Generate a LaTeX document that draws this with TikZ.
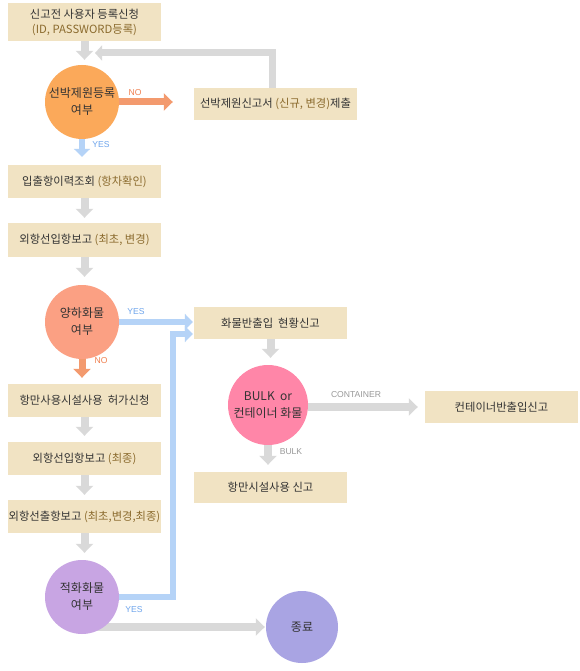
\documentclass[tikz,border=0pt]{standalone}
\usepackage{fontspec}
\setmainfont{Noto Sans CJK KR}
\newfontfamily\labfont{Liberation Sans}
\usetikzlibrary{arrows.meta,backgrounds}
\definecolor{boxc}{HTML}{F1E3C3}
\definecolor{txt}{HTML}{333333}
\definecolor{brn}{HTML}{8B6B2E}
\definecolor{garr}{HTML}{D9D9D9}
\definecolor{barr}{HTML}{B5D3F7}
\definecolor{oarr}{HTML}{F39A6E}
\definecolor{otxt}{HTML}{F08050}
\definecolor{btxt}{HTML}{6EA5EC}
\definecolor{gtxt}{HTML}{999999}
\definecolor{cA}{HTML}{FBA95A}
\definecolor{cB}{HTML}{FBA083}
\definecolor{cC}{HTML}{FF86A8}
\definecolor{cD}{HTML}{C8A5E3}
\definecolor{cE}{HTML}{A9A4E3}
\tikzset{
  flowbox/.style={fill=boxc, draw=none, minimum width=153pt, minimum height=33pt, inner sep=0pt,
    text=txt, align=center, font=\fontsize{11.3}{15}\selectfont},
  decide/.style={circle, draw=none, minimum size=74pt, inner sep=0pt, text=txt, align=center,
    font=\fontsize{12}{17}\selectfont},
  garrow/.style={draw=garr, line width=8pt, -{Triangle[width=17pt,length=9pt]}},
  barrow/.style={draw=barr, line width=6.5pt, -{Triangle[width=16pt,length=8pt]}},
  oarrow/.style={draw=oarr, line width=7pt, -{Triangle[width=17pt,length=9pt]}},
  lab/.style={font=\labfont\fontsize{8.6}{10}\selectfont, inner sep=0pt},
}
\newcommand{\br}[1]{\textcolor{brn}{#1}}
\begin{document}
\begin{tikzpicture}[x=1pt,y=-1pt]
\useasboundingbox (0,0) rectangle (580,671);
% boxes
\node[flowbox, minimum height=38pt] (b1) at (84.5,22) {신고전 사용자 등록신청\\\br{(ID, PASSWORD등록)}};
\node[flowbox, minimum width=163pt, minimum height=32pt] (b2) at (275.5,104) {선박제원신고서 \br{(신규, 변경)}제출};
\node[flowbox] (b3) at (84.5,181.5) {입출항이력조회 \br{(항차확인)}};
\node[flowbox, minimum height=34pt] (b4) at (84.5,240) {외항선입항보고 \br{(최초, 변경)}};
\node[flowbox, minimum height=32pt] (b5) at (270.5,323) {화물반출입\ \ 현황신고};
\node[flowbox, minimum height=32pt] (b6) at (501.5,407) {컨테이너반출입신고};
\node[flowbox, minimum height=31pt] (b7) at (270.5,487.5) {항만시설사용 신고};
\node[flowbox] (b8) at (84.5,400.5) {항만사용시설사용\ \ 허가신청};
\node[flowbox] (b9) at (84.5,458.5) {외항선입항보고 \br{(최종)}};
\node[flowbox] (b10) at (84.5,516.5) {외항선출항보고 \br{(최초,변경,최종)}};
% decisions
\node[decide, fill=cA] (c1) at (82,102) {선박제원등록\\여부};
\node[decide, fill=cB] (c2) at (82,322) {양하화물\\여부};
\node[decide, fill=cC, minimum size=80pt] (c3) at (268,405) {BULK\ \ or\\컨테이너 화물};
\node[decide, fill=cD] (c4) at (82,597) {적화화물\\여부};
\node[decide, fill=cE, minimum size=72pt] (c5) at (302,627) {종료};
% connectors
\draw[garrow, shorten >=5pt] (b1.south) -- (b1.south |- c1.north);
\coordinate (fbtip) at (95,53);
\draw[draw=garr, line width=7pt, -{Triangle[width=15pt,length=7pt]}] ([xshift=-3.5pt]b2.north) |- (fbtip);
\draw[oarrow, shorten >=21pt] (c1.east) -- (c1.east -| b2.west);
\draw[barrow, shorten >=8pt] (c1.south) -- (c1.south |- b3.north);
\draw[garrow, shorten >=5pt] (b3.south) -- (b3.south |- b4.north);
\draw[garrow, shorten >=8pt] (b4.south) -- (b4.south |- c2.north);
\draw[barrow, shorten >=1pt] (c2.east) -- (c2.east -| b5.west);
\draw[oarrow, shorten >=6pt] (c2.south) -- (c2.south |- b8.north);
\draw[garrow, shorten >=6pt] (b8.south) -- (b8.south |- b9.north);
\draw[garrow, shorten >=5pt] (b9.south) -- (b9.south |- b10.north);
\draw[garrow, shorten >=7pt] (b10.south) -- (b10.south |- c4.north);
\coordinate (bend) at (173,597);
\draw[barrow, shorten >=1pt] (c4.east) -- (bend) |- ([yshift=-11pt]b5.west);
\draw[garrow, shorten >=7pt] (b5.south) -- (b5.south |- c3.north);
\draw[garrow, shorten >=7pt] ([yshift=-2pt]c3.east) -- ([yshift=-2pt]c3.east -| b6.west);
\draw[garrow, shorten >=7pt] (c3.south) -- (c3.south |- b7.north);
\begin{pgfonlayer}{background}
\fill[white] (0,0) rectangle (580,671);
\draw[garrow, shorten >=1pt] (c4.center |- c5.west) -- (c5.west);
\end{pgfonlayer}
% labels
\node[lab, text=otxt] (lno1) at (135,93) {NO};
\node[lab, text=btxt] (lyes1) at (101,145) {YES};
\node[lab, text=btxt] (lyes2) at (136,312) {YES};
\node[lab, text=otxt] (lno2) at (101,361) {NO};
\node[lab, text=gtxt] (lcont) at (356,395) {CONTAINER};
\node[lab, text=gtxt] (lbulk) at (291,452) {BULK};
\node[lab, text=btxt] (lyes3) at (134,610) {YES};
\end{tikzpicture}
\end{document}
